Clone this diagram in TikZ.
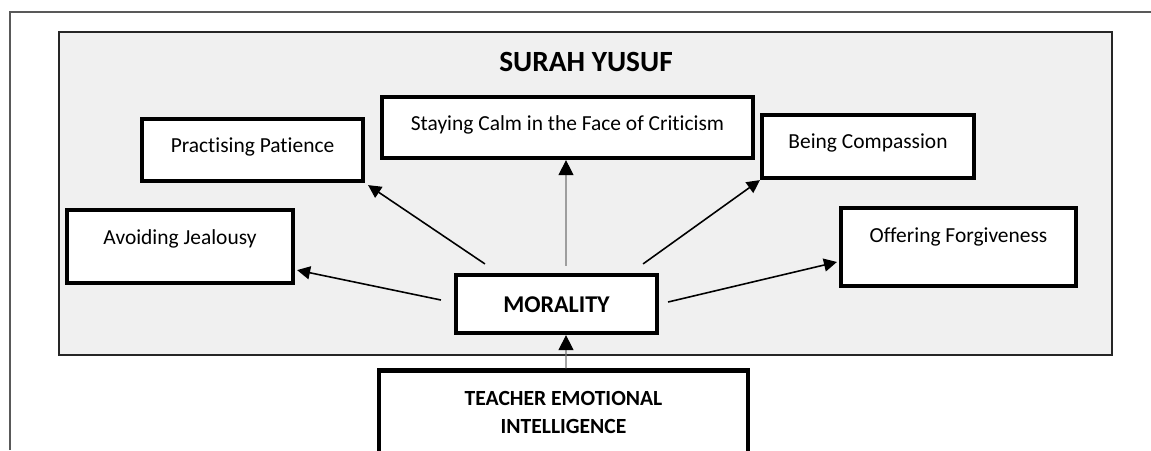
\documentclass[tikz,border=0pt]{standalone}
\usepackage{fontspec}
\setmainfont{Carlito}[Ligatures=NoCommon]
\usepackage{tikz}
\usetikzlibrary{arrows.meta,positioning,shapes,calc}

\begin{document}
\begin{tikzpicture}[x=0.02cm, y=-0.02cm, value node/.style={rectangle,draw,line width=2.4pt,fill=white,font=\fontsize{12.2}{14}\selectfont,text height=1.6ex,text depth=#1}, value node/.default=0.09cm, panel/.style={rectangle,draw=black!85,line width=0.8pt,fill=black!6}]
\useasboundingbox (0,0) rectangle (1151,450);
\draw[draw=black!65,line width=0.9pt] (10,450) |- (1151,12);
\node[panel,minimum width=21.06cm,minimum height=6.46cm] (yusuf) at (585.5,193.5) {};
\begin{scope}[every node/.style={inner sep=0pt}]
\node[font=\fontsize{16.7}{19}\selectfont\bfseries] (title) at (586,62) {SURAH YUSUF};
\node[value node=0.35cm,minimum width=4.52cm,minimum height=1.46cm] (avoid) at (180,246.5) {Avoiding Jealousy};
\node[value node=0.17cm,minimum width=4.42cm,minimum height=1.24cm] (patience) at (252.5,150) {Practising Patience};
\node[value node=0.13cm,minimum width=7.42cm,minimum height=1.22cm] (calm) at (567.5,127.5) {Staying Calm in the Face of Criticism};
\node[value node=0.17cm,minimum width=4.24cm,minimum height=1.26cm] (compassion) at (868,146.5) {Being Compassion};
\node[value node=0.43cm,minimum width=4.7cm,minimum height=1.56cm] (forgive) at (958.5,247) {Offering Forgiveness};
\node[value node=0.07cm,text height=0.41cm,font=\fontsize{13.7}{16}\selectfont\bfseries,minimum width=4.02cm,minimum height=1.16cm] (moral) at (556.5,304) {MORALITY};
\node[value node,font=\fontsize{12.3}{15.6}\selectfont\bfseries,align=center,text height=,text depth=,minimum width=7.38cm,minimum height=1.68cm] (teacher) at (563.5,412.5) {TEACHER EMOTIONAL\\INTELLIGENCE};
\end{scope}
\begin{scope}[every edge/.style={draw=black,line width=0.9pt,-{Triangle[length=0.26cm,width=0.26cm]}}]
\draw ([shift={(-0.26cm,0.08cm)}]moral.west) edge ([shift={(0.04cm,0.3cm)}]avoid.south east);
\draw ([shift={(0.62cm,0.18cm)}]moral.north west) edge ([shift={(0.06cm,-0.04cm)}]patience.south east);
\draw ([shift={(-0.32cm,0.18cm)}]moral.north east) edge (compassion.south west);
\draw ([shift={(0.18cm,0.04cm)}]moral.east) edge ([shift={(-0.04cm,-0.3cm)}]forgive.west);
\end{scope}
\begin{scope}[every edge/.style={draw=black!55,line width=0.6pt,-{Triangle[length=0.3cm,width=0.3cm,color=black]}}]
\draw ([shift={(0.19cm,0.14cm)}]moral.north) edge ([xshift=-0.03cm]calm.south);
\draw ([xshift=0.05cm]teacher.north) edge ([xshift=0.19cm]moral.south);
\end{scope}
\end{tikzpicture}
\end{document}
